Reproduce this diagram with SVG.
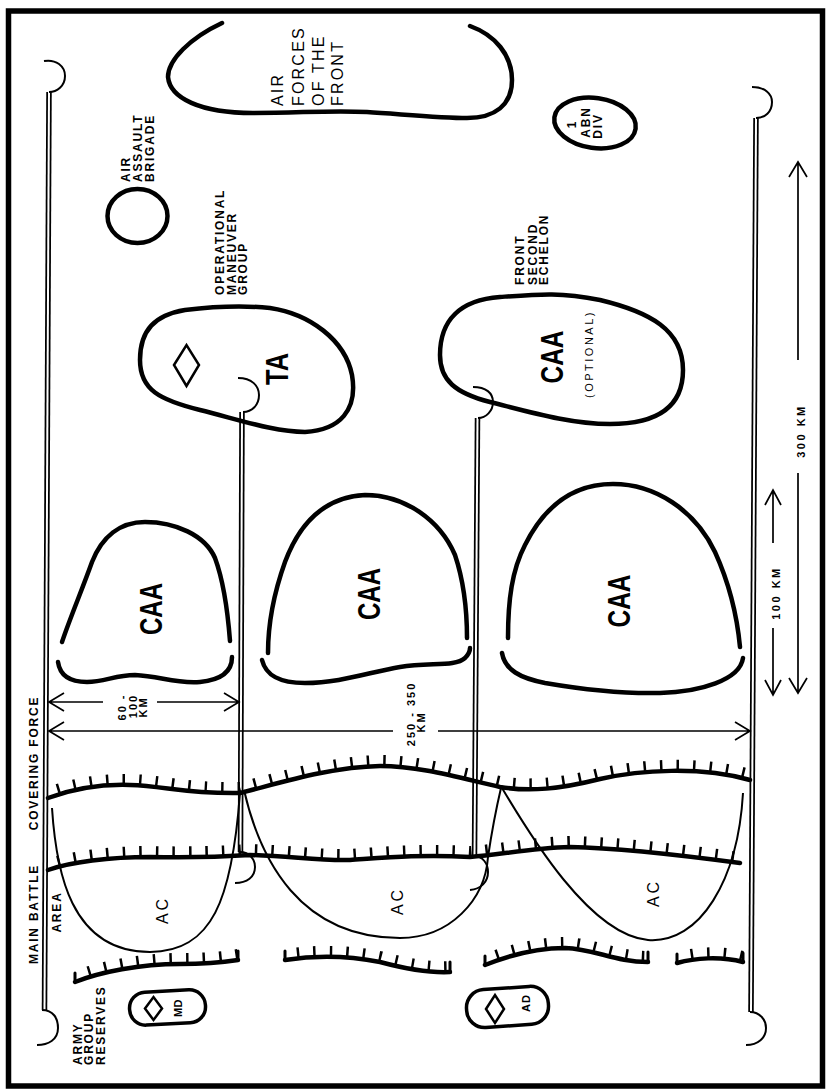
<svg xmlns="http://www.w3.org/2000/svg" xmlns:xlink="http://www.w3.org/1999/xlink" width="826" height="1091" viewBox="0 0 826 1091">
<style>
.thick{fill:none;stroke:#000;stroke-width:4.5;stroke-linecap:round}
.thin{fill:none;stroke:#000;stroke-width:2}
.tick{fill:none;stroke:#000;stroke-width:11;stroke-dasharray:2.5 14}
.dblo{fill:none;stroke:#000;stroke-width:5.5}
.dbli{fill:none;stroke:#fff;stroke-width:2}
.hook{fill:none;stroke:#000;stroke-width:2}
.arr{fill:none;stroke:#000;stroke-width:1.7}
.lbl{font-family:'Liberation Sans',Arial,sans-serif;font-weight:bold;font-size:12px;letter-spacing:1.8px;fill:#000}
.sm{font-family:'Liberation Sans',Arial,sans-serif;font-weight:bold;font-size:11px;letter-spacing:2px;fill:#000}
.big{font-family:'Liberation Sans',Arial,sans-serif;font-weight:bold;font-size:32px;fill:#000}
.reg{font-family:'Liberation Sans',Arial,sans-serif;font-size:16px;letter-spacing:2.2px;fill:#000}
.ac{font-family:'Liberation Sans',Arial,sans-serif;font-size:16px;letter-spacing:3px;fill:#000}
</style>
<defs>
<path id="cf" d="M48,798 C70,790 100,784 130,785 C165,786 185,794 240,793 C280,783 330,767 380,766 C420,766 460,778 500,787 C530,792 560,789 600,779 C640,770 700,766 750,780"/>
<path id="mb" d="M48,870 C70,862 110,857 150,857 C190,858 220,857 250,855 C290,856 320,861 350,860 C380,858 420,854 470,857 C500,855 530,848 570,847 C620,848 680,855 740,863"/>
<path id="r1" d="M75,982 C100,972 140,964 180,964 C210,964 225,962 238,960"/>
<path id="r2" d="M285,960 C310,956 345,955 380,962 C410,970 430,973 450,972"/>
<path id="r3" d="M485,965 C510,955 540,948 565,948 C595,949 615,962 648,962"/>
<path id="r4" d="M677,963 C695,958 720,956 743,962"/>
</defs>
<rect x="8.5" y="11" width="814" height="1075" fill="#fff" stroke="#000" stroke-width="5.5"/>

<g id="connectors">
  <!-- army group boundaries -->
  <path class="dblo" d="M49,92 L44.5,1010"/><path class="dbli" d="M49,92 L44.5,1010"/>
  <path class="hook" d="M44,61 C56,59 65,66 65,76 C65,86 57,92 49,92"/>
  <path class="hook" d="M42,1010 C53,1010 58,1018 58,1028 C58,1040 48,1045 37,1045"/>
  <path class="dblo" d="M756,118 L751,1012"/><path class="dbli" d="M756,118 L751,1012"/>
  <path class="hook" d="M752,87 C765,87 772,94 772,102 C772,112 765,118 756,118"/>
  <path class="hook" d="M750,1012 C760,1012 766,1020 766,1028 C766,1038 758,1045 746,1045"/>
  <!-- army boundaries -->
  <path class="dblo" d="M242,412 L240.5,852"/><path class="dbli" d="M242,412 L240.5,852"/>
  <path class="hook" d="M238,378 C252,378 259,386 259,395 C259,405 252,412 243,412"/>
  <path class="hook" d="M240,852 C250,852 255,860 255,867 C255,877 247,883 235,883"/>
  <path class="dblo" d="M477.5,418 L474.5,856"/><path class="dbli" d="M477.5,418 L474.5,856"/>
  <path class="hook" d="M473,387 C486,387 493,393 493,402 C493,411 486,418 478,418"/>
  <path class="hook" d="M474,856 C483,856 488,864 488,872 C488,882 481,889 470,890"/>
  <!-- phase lines -->
  <use href="#cf" class="thick"/><use href="#cf" class="tick" transform="translate(0,-5.5)" style="stroke-dashoffset:-10"/>
  <use href="#mb" class="thick"/><use href="#mb" class="tick" transform="translate(0,-5.5)" style="stroke-dashoffset:-10"/>
  <use href="#r1" class="thick"/><use href="#r1" class="tick" transform="translate(0,-5.5)" style="stroke-dashoffset:-14"/>
  <use href="#r2" class="thick"/><use href="#r2" class="tick" transform="translate(0,-5.5)" style="stroke-dashoffset:-12"/>
  <use href="#r3" class="thick"/><use href="#r3" class="tick" transform="translate(0,-5.5)" style="stroke-dashoffset:-12"/>
  <use href="#r4" class="thick"/><use href="#r4" class="tick" transform="translate(0,-5.5)" style="stroke-dashoffset:-14"/>
  <path class="thick" style="stroke-width:3" d="M75,982 L75,973 M238,960 L238,951 M285,960 L285,951 M450,972 L450,962 M485,965 L485,956 M648,962 L648,952 M677,963 L677,954 M743,962 L743,953"/>
  <!-- dimension arrows -->
  <path class="arr" d="M49,702 L103,702 M157,702 L239,702 M64,693 L49,702 L64,711 M224,693 L239,702 L224,711"/>
  <path class="arr" d="M49,731 L393,731 M438,731 L750,731 M64,722 L49,731 L64,740 M735,722 L750,731 L735,740"/>
  <path class="arr" d="M798,162 L798,360 M798,473 L798,693 M789,177 L798,162 L807,177 M789,678 L798,693 L807,678"/>
  <path class="arr" d="M773,490 L773,543 M773,628 L773,695 M765,505 L773,490 L781,505 M765,680 L773,695 L781,680"/>
</g>

<g id="air-forces">
  <path class="thick" d="M222,23 C190,38 168,60 168,77 C170,98 200,113 253,113 C300,113 330,110 367,112 C400,114 440,118 467,118 C495,118 512,105 512,80 C512,55 495,35 470,26"/>
  <text class="reg" transform="translate(283,106) rotate(-90)">AIR</text>
  <text class="reg" transform="translate(304,106) rotate(-90)">FORCES</text>
  <text class="reg" transform="translate(324,106) rotate(-90)">OF THE</text>
  <text class="reg" transform="translate(343,106) rotate(-90)">FRONT</text>
</g>

<g id="air-assault">
  <ellipse cx="137.5" cy="216" rx="30" ry="27" class="thick"/>
  <text class="lbl" transform="translate(130,182) rotate(-90)">AIR</text>
  <text class="lbl" transform="translate(142,182) rotate(-90)">ASSAULT</text>
  <text class="lbl" transform="translate(154,182) rotate(-90)">BRIGADE</text>
</g>

<g id="abn-div">
  <ellipse cx="595" cy="123" rx="41" ry="25" transform="rotate(8 595 123)" class="thick"/>
  <text class="lbl" text-anchor="middle" transform="translate(576,124) rotate(-90)">1</text>
  <text class="lbl" text-anchor="middle" transform="translate(590,122) rotate(-90)">ABN</text>
  <text class="lbl" text-anchor="middle" transform="translate(602,126) rotate(-90)">DIV</text>
</g>

<g id="omg-ta">
  <path class="thick" d="M140,360 C140,330 155,315 185,310 C210,307 240,305 270,308 C310,314 345,340 352,375 C358,410 340,430 305,432 C275,432 240,420 200,410 C160,400 140,390 140,360 Z"/>
  <polygon points="174,365 186.5,345 199,365 186.5,386" fill="none" stroke="#000" stroke-width="2.5"/>
  <text class="big" font-size="29" text-anchor="middle" textLength="32" lengthAdjust="spacingAndGlyphs" transform="translate(288,369) rotate(-90)">TA</text>
  <text class="lbl" transform="translate(224,295) rotate(-90)">OPERATIONAL</text>
  <text class="lbl" transform="translate(236,295) rotate(-90)">MANEUVER</text>
  <text class="lbl" transform="translate(247,295) rotate(-90)">GROUP</text>
</g>

<g id="front-second-echelon">
  <path class="thick" d="M440,355 C440,320 460,300 500,297 C540,294 560,292 600,300 C650,312 683,330 683,370 C683,405 660,424 610,424 C570,424 530,412 490,402 C455,393 440,380 440,355 Z"/>
  <text class="big" text-anchor="middle" textLength="53" lengthAdjust="spacingAndGlyphs" transform="translate(563,357) rotate(-90)">CAA</text>
  <text class="sm" style="font-weight:normal;letter-spacing:2.5px" text-anchor="middle" transform="translate(593,354) rotate(-90)">(OPTIONAL)</text>
  <text class="lbl" transform="translate(524,285) rotate(-90)">FRONT</text>
  <text class="lbl" transform="translate(537,285) rotate(-90)">SECOND</text>
  <text class="lbl" transform="translate(548,285) rotate(-90)">ECHELON</text>
</g>

<g id="caa-1">
  <path class="thick" d="M62,642 C70,618 82,590 92,562 C102,537 120,522 145,522 C175,522 205,535 215,558 C225,585 228,615 230,641"/>
  <path class="thick" d="M58,662 C60,676 70,682 87,682 C105,682 115,675 135,675 C160,676 175,684 200,682 C220,680 232,672 232,657"/>
  <text class="big" text-anchor="middle" textLength="52" lengthAdjust="spacingAndGlyphs" transform="translate(162,609) rotate(-90)">CAA</text>
</g>
<g id="caa-2">
  <path class="thick" d="M268,653 C268,620 275,590 285,562 C300,522 325,497 365,495 C405,495 440,520 455,555 C465,585 467,615 467,638"/>
  <path class="thick" d="M262,660 C266,676 280,683 305,683 C340,683 370,672 400,667 C430,662 455,667 465,658 C470,653 470,650 470,648"/>
  <text class="big" text-anchor="middle" textLength="52" lengthAdjust="spacingAndGlyphs" transform="translate(380,594) rotate(-90)">CAA</text>
</g>
<g id="caa-3">
  <path class="thick" d="M508,638 C508,600 512,570 525,545 C545,505 575,484 613,484 C655,484 695,510 715,552 C730,585 737,615 740,647"/>
  <path class="thick" d="M502,653 C505,670 520,678 545,683 C580,689 620,694 660,693 C700,692 740,680 743,658"/>
  <text class="big" text-anchor="middle" textLength="53" lengthAdjust="spacingAndGlyphs" transform="translate(630,601) rotate(-90)">CAA</text>
</g>

<g id="ac-1">
  <path class="thin" d="M52,808 C56,870 70,952 150,952 C212,952 232,900 240,793"/>
  <text class="ac" text-anchor="middle" transform="translate(168,910) rotate(-90)">AC</text>
</g>
<g id="ac-2">
  <path class="thin" d="M244,790 C260,860 300,938 400,938 C450,938 485,900 488,857 C492,830 497,805 501,788"/>
  <text class="ac" text-anchor="middle" transform="translate(403,901) rotate(-90)">AC</text>
</g>
<g id="ac-3">
  <path class="thin" d="M502,788 C530,835 590,935 648,940 C700,944 738,880 743,793"/>
  <text class="ac" text-anchor="middle" transform="translate(659,893) rotate(-90)">AC</text>
</g>

<g id="md">
  <rect x="129.5" y="991" width="76" height="33" rx="16" transform="rotate(-3 167 1007)" class="thick" style="stroke-width:3.5"/>
  <polygon points="145,1008.5 153.5,997 162,1008.5 153.5,1020" fill="none" stroke="#000" stroke-width="2.5"/>
  <text class="sm" style="letter-spacing:0.5px" text-anchor="middle" transform="translate(182,1008) rotate(-90)">MD</text>
</g>
<g id="ad">
  <rect x="466.5" y="988" width="82" height="38" rx="18" transform="rotate(-4 507 1007)" class="thick" style="stroke-width:3.5"/>
  <polygon points="486,1009 495,995 504,1009 495,1023" fill="none" stroke="#000" stroke-width="2.5"/>
  <text class="sm" style="letter-spacing:1px" text-anchor="middle" transform="translate(530,1003) rotate(-90)">AD</text>
</g>

<g id="labels">
  <text class="lbl" text-anchor="middle" transform="translate(38,763) rotate(-90)">COVERING FORCE</text>
  <text class="lbl" text-anchor="middle" transform="translate(38,914) rotate(-90)">MAIN BATTLE</text>
  <text class="lbl" text-anchor="middle" transform="translate(61,912) rotate(-90)">AREA</text>
  <text class="lbl" transform="translate(82,1065) rotate(-90)">ARMY</text>
  <text class="lbl" transform="translate(93,1065) rotate(-90)">GROUP</text>
  <text class="lbl" transform="translate(105,1065) rotate(-90)">RESERVES</text>
  <text class="sm" text-anchor="middle" transform="translate(126,707) rotate(-90)">60 -</text>
  <text class="sm" text-anchor="middle" transform="translate(137,706) rotate(-90)">100</text>
  <text class="sm" text-anchor="middle" transform="translate(147,707) rotate(-90)">KM</text>
  <text class="sm" text-anchor="middle" transform="translate(415,714) rotate(-90)">250 - 350</text>
  <text class="sm" text-anchor="middle" transform="translate(425,722) rotate(-90)">KM</text>
  <text class="sm" style="letter-spacing:2.5px" text-anchor="middle" transform="translate(805,431) rotate(-90)">300 KM</text>
  <text class="sm" style="letter-spacing:2.5px" text-anchor="middle" transform="translate(780,593) rotate(-90)">100 KM</text>
</g>
</svg>
